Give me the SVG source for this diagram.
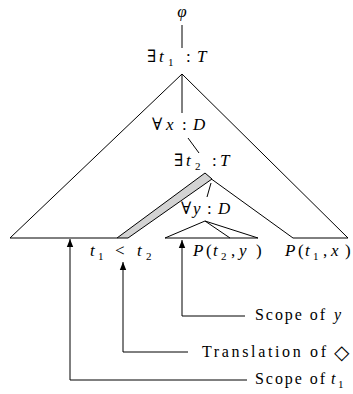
<svg xmlns="http://www.w3.org/2000/svg" width="353" height="394" viewBox="0 0 353 394">
<defs>
<marker id="ah" viewBox="0 0 8 10" refX="8" refY="5" markerWidth="8" markerHeight="10" markerUnits="userSpaceOnUse" orient="auto">
<path d="M0,1.8 L8,5 L0,8.2 Z" fill="#000"/>
</marker>
<style>
.ln{fill:none;stroke:#000;stroke-width:1}
text{font-family:"Liberation Serif","DejaVu Serif",serif;font-size:17px;fill:#000}
.i{font-style:italic}
.s{font-size:11px;font-style:normal}
.lab{font-size:16px}
</style>
</defs>
<rect width="353" height="394" fill="#fff"/>
<g id="connectors">
<line class="ln" x1="182" y1="25" x2="182" y2="48"/>
<line class="ln" x1="182" y1="74" x2="182" y2="113"/>
<line class="ln" x1="188" y1="138" x2="199" y2="153"/>
<line class="ln" x1="211" y1="183" x2="207" y2="197"/>
<polyline class="ln" points="117,238 10,238 182,74 348,238 293,238 210,178"/>
<polygon points="117,238 205,173 212,179 128,238" fill="#d3d3d3" stroke="#000" stroke-width="1"/>
<polyline class="ln" points="165,238 205,221 258,238 165,238"/>
<line class="ln" x1="205" y1="221" x2="230" y2="238"/>
<polyline class="ln" points="247,380 70,380 70,239" marker-end="url(#ah)"/>
<polyline class="ln" points="188,352 123,352 123,262" marker-end="url(#ah)"/>
<polyline class="ln" points="245,316 182,316 182,240" marker-end="url(#ah)"/>
</g>
<g id="phi"><text x="182" y="17" text-anchor="middle" class="i">φ</text></g>
<g id="exists-t1"><text y="62"><tspan x="147">∃</tspan><tspan x="159" class="i">t</tspan><tspan x="168" y="66" class="s">1</tspan><tspan x="186" y="62">:</tspan><tspan x="197" class="i">T</tspan></text></g>
<g id="forall-x"><text y="130"><tspan x="152">∀</tspan><tspan x="166" class="i">x</tspan><tspan x="182">:</tspan><tspan x="193" class="i">D</tspan></text></g>
<g id="exists-t2"><text y="166"><tspan x="174">∃</tspan><tspan x="186" class="i">t</tspan><tspan x="195" y="170" class="s">2</tspan><tspan x="212" y="166">:</tspan><tspan x="220" class="i">T</tspan></text></g>
<g id="forall-y"><text y="214"><tspan x="181">∀</tspan><tspan x="193" class="i">y</tspan><tspan x="207">:</tspan><tspan x="218" class="i">D</tspan></text></g>
<g id="t1-lt-t2"><text y="256"><tspan x="90" class="i">t</tspan><tspan x="98" y="260" class="s">1</tspan><tspan x="115" y="256">&lt;</tspan><tspan x="137" class="i">t</tspan><tspan x="146" y="260" class="s">2</tspan></text></g>
<g id="P-t2-y"><text y="256"><tspan x="193" class="i">P</tspan><tspan x="206">(</tspan><tspan x="213" class="i">t</tspan><tspan x="221" y="260" class="s">2</tspan><tspan x="231" y="256">,</tspan><tspan x="239" class="i">y</tspan><tspan x="256">)</tspan></text></g>
<g id="P-t1-x"><text y="256"><tspan x="285" class="i">P</tspan><tspan x="298">(</tspan><tspan x="305" class="i">t</tspan><tspan x="313" y="260" class="s">1</tspan><tspan x="323" y="256">,</tspan><tspan x="331" class="i">x</tspan><tspan x="345">)</tspan></text></g>
<g id="label-scope-y"><text class="lab" y="320"><tspan x="255" textLength="70" lengthAdjust="spacing">Scope of</tspan><tspan x="334" class="i">y</tspan></text></g>
<g id="label-translation"><text class="lab" y="357"><tspan x="202" textLength="124" lengthAdjust="spacing">Translation of</tspan><tspan x="334" y="359" style="font-family:'DejaVu Sans',sans-serif;font-size:20px">◇</tspan></text></g>
<g id="label-scope-t1"><text class="lab" y="384"><tspan x="255" textLength="70" lengthAdjust="spacing">Scope of</tspan><tspan x="331" class="i">t</tspan><tspan x="338" y="388" class="s">1</tspan></text></g>
</svg>
